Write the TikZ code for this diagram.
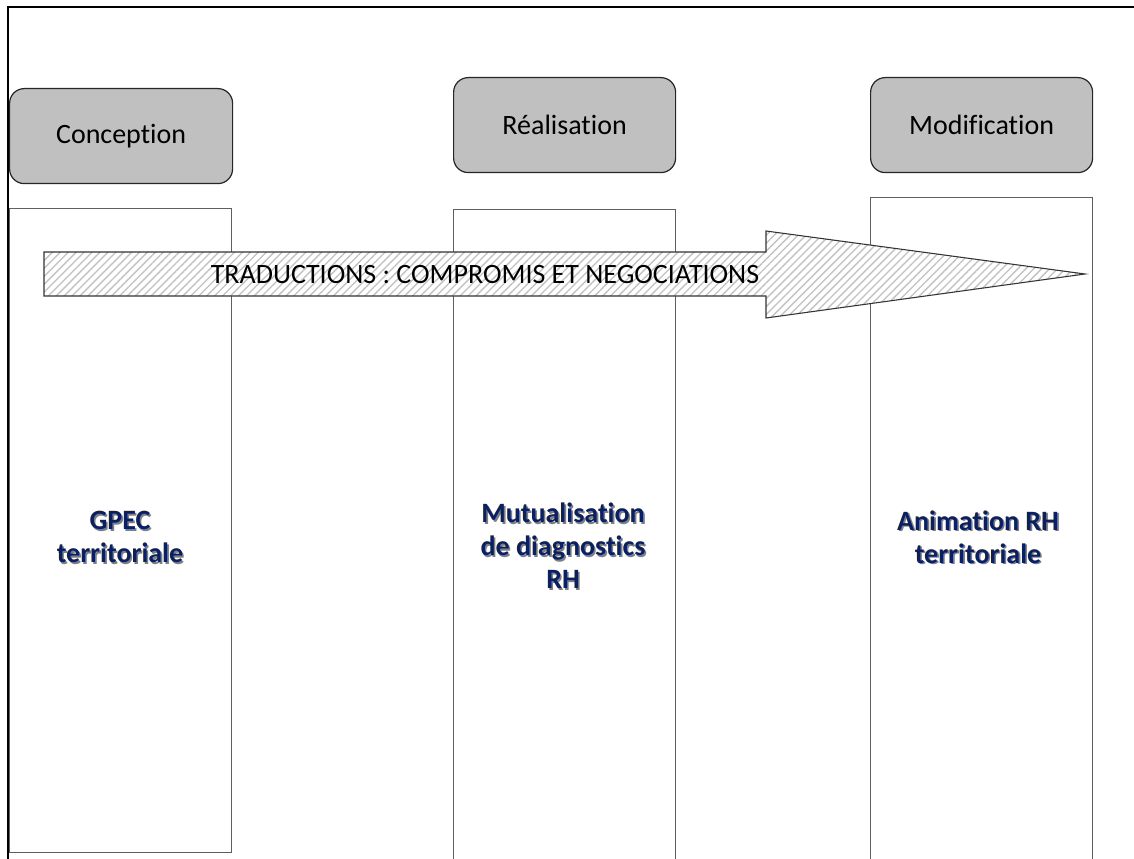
\documentclass[tikz,border=0pt]{standalone}
\usepackage{fontspec}
\setmainfont{Carlito}[Ligatures={NoCommon,NoContextual}]
\usetikzlibrary{calc,patterns.meta}
\definecolor{hdrgray}{RGB}{192,192,192}
\definecolor{navy}{RGB}{10,32,96}
\definecolor{laneline}{RGB}{95,95,95}
\tikzset{
  phase/.style  ={draw=black!85, fill=hdrgray, line width=0.9pt, rounded corners=11pt, minimum width=166.5pt, minimum height=71.25pt, inner sep=0pt, font=\fontsize{21}{25}\selectfont},
  lane/.style   ={draw=laneline, line width=1pt, minimum width=166.5pt, inner sep=0pt},
  band/.style   ={draw=black!80, line width=0.8pt, preaction={fill=white}, pattern={Lines[angle=45,distance=4.2pt,line width=1pt]}, pattern color=black!24},
  bandlbl/.style={inner sep=0pt, font=\fontsize{21}{25}\selectfont},
  rh/.style     ={align=center, text=navy, inner sep=0pt, font=\bfseries\fontsize{21}{24.75}\selectfont},
  rhshd/.style  ={rh, text=black, opacity=.5},
  frame/.style  ={line width=1.6pt, black},
}
\newcommand{\rhtext}[3]{%
  \node[rhshd] (#1s) at ($(#2)+(1.6,1.6)$) {#3};
  \node[rh] (#1) at (#2) {#3};}

\begin{document}
\begin{tikzpicture}[x=0.75pt, y=-0.75pt]
  \useasboundingbox (0,0) rectangle (1134,859);
  \draw[frame] (8,859) -- (8,7) -- (1134,7);

  % phases
  \node[phase, anchor=north west, minimum width=167.25pt] (conc) at (9,88) {Conception};
  \node[phase, anchor=north west] (real) at (453,77) {Réalisation};
  \node[phase, anchor=north west] (modif) at (870,77) {Modification};

  % lanes
  \node[lane, anchor=north west, minimum height=483pt] (lane1) at (9,208) {};
  \node[lane, anchor=north west, minimum height=496pt] (lane2) at (453,209) {};
  \node[lane, anchor=north west, minimum height=505pt] (lane3) at (870,197) {};

  % translation arrow
  \draw[band] (44,252) -- (766,252) -- (766,231) -- (1085,274) -- (766,318) -- (766,296) -- (44,296) -- cycle;
  \node[bandlbl] (trad) at (485,275) {TRADUCTIONS : COMPROMIS ET NEGOCIATIONS};

  \rhtext{gpec}{120,537}{GPEC\\territoriale}
  \rhtext{mutu}{563,546}{Mutualisation\\de diagnostics\\RH}
  \rhtext{anim}{978,537}{Animation RH\\territoriale}
\end{tikzpicture}
\end{document}
